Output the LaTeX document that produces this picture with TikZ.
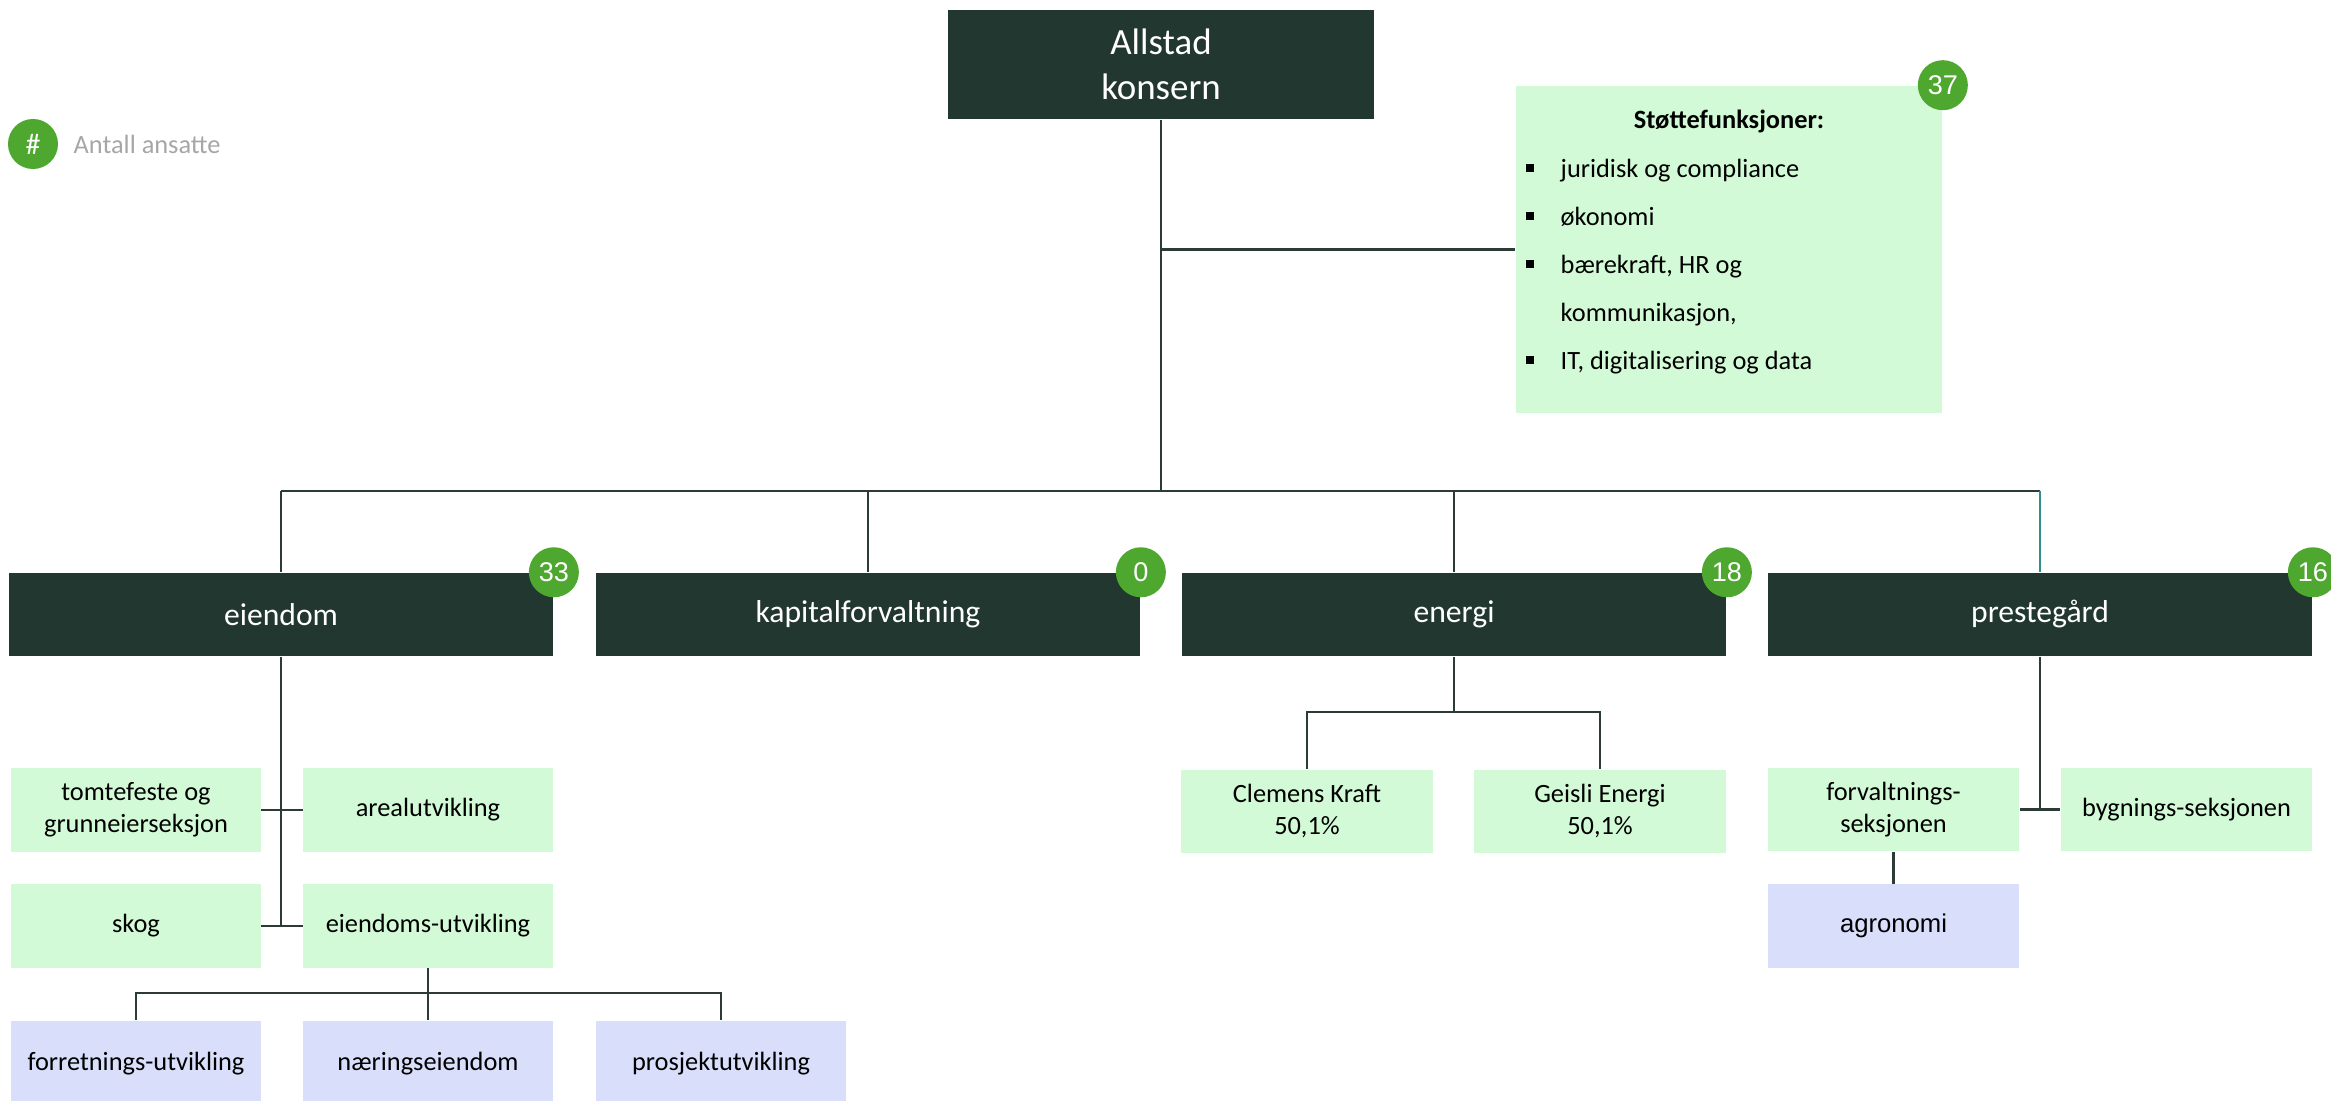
\documentclass[tikz,border=0pt]{standalone}
\usepackage{fontspec}
\setmainfont{Carlito}
\newfontfamily\arialfont{Liberation Sans}
\definecolor{darkgreen}{HTML}{223730}
\definecolor{mint}{HTML}{D3FAD6}
\definecolor{lavender}{HTML}{D9DEFB}
\definecolor{badgegreen}{HTML}{4EA72E}
\definecolor{linegray}{HTML}{2D3B36}
\definecolor{legendgray}{HTML}{A6A6A6}
\definecolor{tealline}{HTML}{2F8F8F}
\begin{document}
\begin{tikzpicture}[x=0.01cm,y=-0.01cm,
    link/.style={draw=linegray,line width=0.7pt},
    headbox/.style={fill=darkgreen,text=white,inner sep=0pt,align=center},
    unitbox/.style={headbox,minimum width=5.44cm,minimum height=0.83cm,font=\fontsize{9}{11}\selectfont},
    subbox/.style={fill=mint,inner sep=0pt,align=center,minimum width=2.49cm,minimum height=0.83cm,font=\fontsize{7.5}{9.1}\selectfont},
    teambox/.style={subbox,fill=lavender},
    badge/.style={circle,fill=badgegreen,text=white,inner sep=0pt,minimum size=0.5cm,font=\arialfont\fontsize{7.7}{8}\selectfont}]
      \useasboundingbox (0,0) rectangle (2331,1101);
      \clip (0,0) rectangle (2331,1101);

      \node[badge,font=\fontsize{8.5}{9}\selectfont] (legbadge) at (33,144) {\#};
      \node[anchor=base west,inner sep=0pt,text=legendgray,font=\fontsize{7.5}{9}\selectfont] (legtext) at (73,154) {Antall ansatte};

      \node[headbox,minimum width=4.26cm,minimum height=1.09cm,font=\fontsize{10.5}{12.8}\selectfont] (top) at (1161,64.5) {Allstad\\konsern};

      \node[fill=mint,minimum width=4.26cm,minimum height=3.27cm] (supp) at (1729,249.5) {};
      \node[anchor=base,inner sep=0pt,font=\bfseries\fontsize{7.5}{9}\selectfont] (supphead) at (1729,129) {Støttefunksjoner:};
      \foreach \y/\txt [count=\i] in {178/juridisk og compliance,226/økonomi,274/{bærekraft, HR og},322/{kommunikasjon,},370/{IT, digitalisering og data}}
        \node[anchor=base west,inner sep=0pt,font=\fontsize{7.5}{9}\selectfont] (item\i) at (1560,\y) {\txt};
      \foreach \y in {168,216,264,360}
        \fill (1530,\y) +(-4,-4) rectangle +(4,4);

      \node[unitbox] (eiendom) at (281,614.5) {eiendom};
      \node[unitbox] (kapital) at (868,614.5) {kapitalforvaltning};
      \node[unitbox] (energi) at (1454,614.5) {energi};
      \node[unitbox] (prest) at (2040,614.5) {prestegård};

      \node[subbox] (tomt) at (136,810) {tomtefeste og\\grunneierseksjon};
      \node[subbox] (areal) at (428,810) {arealutvikling};
      \node[subbox] (skog) at (136,926) {skog};
      \node[subbox] (eutv) at (428,926) {eiendoms-utvikling};

      \node[teambox,minimum height=0.86cm] (forr) at (136,1064) {forretnings-utvikling};
      \node[teambox,minimum height=0.86cm] (naer) at (428,1064) {næringseiendom};
      \node[teambox,minimum height=0.86cm] (pros) at (721,1064) {prosjektutvikling};

      \node[subbox,minimum width=2.51cm] (clem) at (1307,811.5) {Clemens Kraft\\50,1\%};
      \node[subbox,minimum width=2.51cm] (geis) at (1600,811.5) {Geisli Energi\\50,1\%};

      \node[subbox,minimum width=2.51cm] (forv) at (1893.5,809.5) {forvaltnings-\\seksjonen};
      \node[subbox,minimum width=2.51cm] (bygn) at (2186.5,809.5) {bygnings-seksjonen};
      \node[teambox,minimum width=2.51cm,font=\arialfont\fontsize{7.3}{9}\selectfont] (agro) at (1893.5,926) {agronomi};

      \node[badge] (nsupp) at (supp.north east) {37};
      \foreach \n/\num in {eiendom/33,kapital/0,energi/18,prest/16}
        \node[badge] (n\n) at (\n.north east) {\num};

      \coordinate (bus) at (1161,491);
      \draw[link] (top.south) -- (bus);
      \draw[link] (top.south |- supp.west) -- (supp.west);
      \draw[link] (eiendom.north |- bus) -- (prest.north |- bus);
      \foreach \n in {eiendom,kapital,energi}
        \draw[link] (\n.north |- bus) -- (\n.north);
      \draw[link,draw=tealline] (prest.north |- bus) -- (prest.north);

      \draw[link] (eiendom.south) -- (eiendom.south |- skog.east);
      \draw[link] (tomt.east) -- (areal.west);
      \draw[link] (skog.east) -- (eutv.west);
      \coordinate (ebus) at (428,993);
      \draw[link] (eutv.south) -- (ebus) -- (naer.north);
      \draw[link] (forr.north) -- (forr.north |- ebus) -- (pros.north |- ebus) -- (pros.north);

      \coordinate (nbus) at (1454,712);
      \draw[link] (energi.south) -- (nbus);
      \draw[link] (clem.north) -- (clem.north |- nbus) -- (geis.north |- nbus) -- (geis.north);

      \draw[link] (prest.south) -- (prest.south |- bygn.west);
      \draw[link] (forv.east) -- (bygn.west);
      \draw[link] (forv.south) -- (agro.north);
    \end{tikzpicture}
\end{document}
